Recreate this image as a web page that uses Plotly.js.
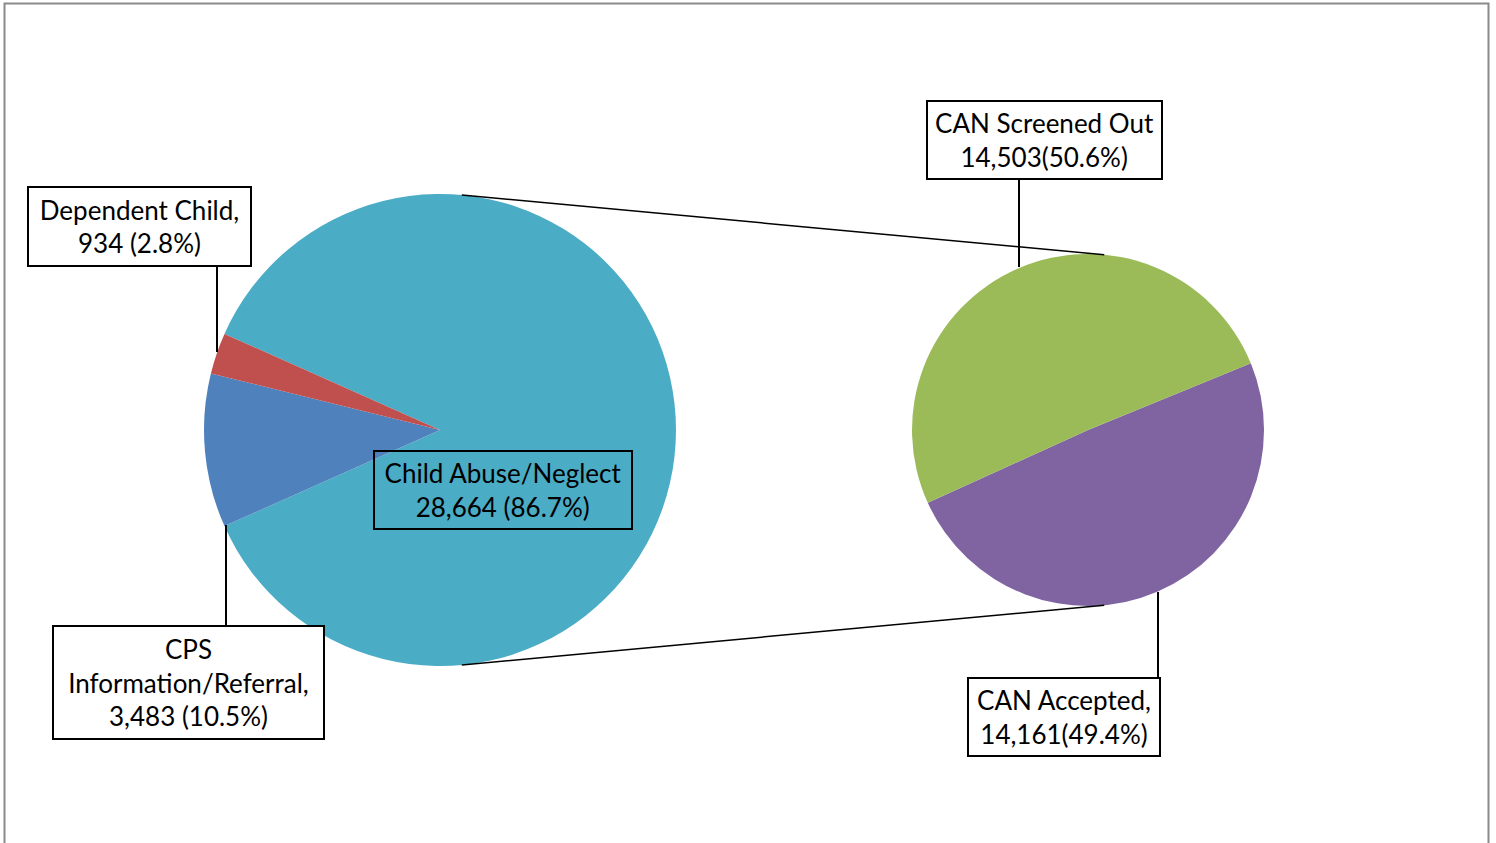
<!DOCTYPE html>
<html>
<head>
<meta charset="utf-8">
<script src="https://cdn.plot.ly/plotly-3.0.1.min.js"></script>
<style>html,body{margin:0;padding:0;background:#fff;}#chart{width:1496px;height:843px;}</style>
</head>
<body>
<div id="chart"></div>
<script>
// ---- data ----
var mainCategories = ["Child Abuse/Neglect", "CPS Information/Referral", "Dependent Child"];
var mainValues = [28664, 3483, 934];
var mainColors = ["#4BACC6", "#4F81BD", "#C0504D"];
var mainLabels = ["Child Abuse/Neglect<br>28,664 (86.7%)", "CPS<br>Information/Referral,<br>3,483 (10.5%)", "Dependent Child,<br>934 (2.8%)"];

var subCategories = ["CAN Accepted", "CAN Screened Out"];
var subValues = [14161, 14503];
var subColors = ["#8064A2", "#9BBB59"];
var subLabels = ["CAN Accepted,<br>14,161(49.4%)", "CAN Screened Out<br>14,503(50.6%)"];

// ---- geometry (pixels) ----
var W = 1496, H = 843;
var L = {cx: 440, cy: 430, r: 236};
var R = {cx: 1088, cy: 430, r: 176};
function px(x){return x / W;}
function py(y){return 1 - y / H;}
function dom(c){return {x:[px(c.cx - c.r), px(c.cx + c.r)], y:[py(c.cy + c.r), py(c.cy - c.r)]};}

var total = mainValues.reduce(function(a,b){return a+b;}, 0);
var splitAngle = mainValues[0] / total * 360;

var traces = [
  {type:'pie', labels: mainCategories, values: mainValues, sort:false, direction:'clockwise',
   rotation: 90 - splitAngle/2, marker:{colors: mainColors, line:{width:0}}, textinfo:'none',
   hoverinfo:'label+value+percent', domain: dom(L)},
  {type:'pie', labels: subCategories, values: subValues, sort:false, direction:'clockwise',
   rotation: 67.7, marker:{colors: subColors, line:{width:0}}, textinfo:'none',
   hoverinfo:'label+value+percent', domain: dom(R)}
];

// connector lines
var a = 5.3 * Math.PI / 180;
function pt(c, s){return [c.cx + c.r*Math.sin(a), c.cy + s*c.r*Math.cos(a)];}
var shapes = [];
[-1, 1].forEach(function(s){
  var p1 = pt(L, s), p2 = pt(R, s);
  shapes.push({type:'line', xref:'paper', yref:'paper', x0:px(p1[0]), y0:py(p1[1]), x1:px(p2[0]), y1:py(p2[1]), line:{color:'#000', width:1.5}});
});
// leader lines
function lead(x, y0, y1){shapes.push({type:'line', xref:'paper', yref:'paper', x0:px(x), x1:px(x), y0:py(y0), y1:py(y1), line:{color:'#000', width:2}});}
lead(217, 267, 352);
lead(226, 525, 625);
lead(1019, 180, 267);
lead(1158, 592, 677);
// outer border
shapes.push({type:'rect', xref:'paper', yref:'paper', x0:px(4.5), x1:px(1488.5), y0:py(870), y1:py(3.5), line:{color:'#8a8a8a', width:2}, fillcolor:'rgba(0,0,0,0)'});

var boxes = [
  {text: mainLabels[2], x0:27, x1:252, y0:186, y1:267, bg:'#fff'},
  {text: mainLabels[1], x0:52, x1:325, y0:625, y1:740, bg:'#fff'},
  {text: mainLabels[0], x0:373, x1:633, y0:450, y1:530, bg:'rgba(0,0,0,0)'},
  {text: subLabels[1], x0:926, x1:1163, y0:100, y1:180, bg:'#fff'},
  {text: subLabels[0], x0:967, x1:1161, y0:677, y1:757, bg:'#fff'}
];
var annotations = boxes.map(function(b){
  return {xref:'paper', yref:'paper', x:px((b.x0+b.x1)/2), y:py((b.y0+b.y1)/2), xanchor:'center', yanchor:'middle',
    text:b.text, showarrow:false, width:b.x1-b.x0-4, height:b.y1-b.y0-4, borderpad:0, bordercolor:'#000', borderwidth:2,
    bgcolor:b.bg, align:'center', valign:'middle', font:{family:'Lato, "Open Sans", sans-serif', size:26, color:'#000'}};
});

var layout = {width:W, height:H, margin:{l:0,r:0,t:0,b:0}, showlegend:false, paper_bgcolor:'#fff',
  shapes: shapes, annotations: annotations};
Plotly.newPlot('chart', traces, layout, {displayModeBar:false, staticPlot:true});
</script>
</body>
</html>
